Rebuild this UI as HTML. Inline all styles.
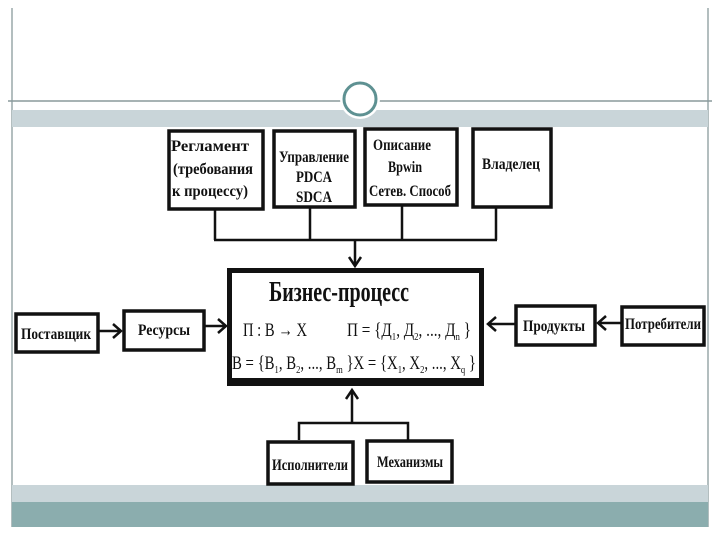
<!DOCTYPE html>
<html><head><meta charset="utf-8"><style>
body{margin:0;width:720px;height:540px;background:#fff;overflow:hidden;font-family:"Liberation Serif","DejaVu Serif",serif}
</style></head><body>
<svg width="720" height="540" xmlns="http://www.w3.org/2000/svg" font-family="Liberation Serif, DejaVu Serif, serif" font-weight="bold">
<line x1="12" y1="8" x2="12" y2="527" stroke="#9aa8aa" stroke-width="1.5"/>
<line x1="708" y1="8" x2="708" y2="527" stroke="#9aa8aa" stroke-width="1.5"/>
<line x1="8" y1="101" x2="712" y2="101" stroke="#8a9a9c" stroke-width="1.5"/>
<rect x="12" y="110" width="696" height="17" fill="#c9d5d9"/>
<rect x="12" y="485" width="696" height="17" fill="#c9d5d9"/>
<rect x="12" y="502" width="696" height="25" fill="#8badae"/>
<circle cx="360" cy="99" r="20" fill="#fff"/>
<circle cx="360" cy="99" r="16" fill="none" stroke="#5e9192" stroke-width="3"/>
<g fill="#fff" stroke="#111" stroke-width="3.5">
<rect x="169" y="131" width="94" height="78"/>
<rect x="274" y="131" width="81" height="76"/>
<rect x="365" y="129" width="92" height="76"/>
<rect x="473" y="129" width="78" height="78"/>
<rect x="16" y="314" width="82" height="38"/>
<rect x="124" y="311" width="80" height="39"/>
<rect x="516" y="306" width="79" height="39"/>
<rect x="622" y="307" width="82" height="38"/>
<rect x="268" y="442" width="85" height="42"/>
<rect x="367" y="441" width="85" height="41"/>
</g>
<rect x="229.5" y="270.5" width="252" height="113" fill="#fff" stroke="#111" stroke-width="5"/>
<rect x="227" y="378" width="257" height="8" fill="#111"/>
<g stroke="#111" stroke-width="2.5" fill="none">
<path d="M215 209V240M310 207V240M402 205V240M496 207V240M214 240H497M355 240V265"/>
<path d="M349 257L355 266L361 257"/>
<path d="M98 331H120M113 324L121 331L113 338"/>
<path d="M204 326H225M218 319L226 326L218 333"/>
<path d="M621 323H599M606 316L598 323L606 330"/>
<path d="M515 324H489M496 317L488 324L496 331"/>
<path d="M299 440V423H408V440M352 423V391M346 399L352 390L358 399"/>
</g>
<g fill="#111" font-size="16" text-anchor="middle">
<text x="210" y="151" textLength="78" lengthAdjust="spacingAndGlyphs">Регламент</text>
<text x="213" y="174" textLength="80" lengthAdjust="spacingAndGlyphs">(требования</text>
<text x="210" y="196" textLength="76" lengthAdjust="spacingAndGlyphs">к процессу)</text>
<text x="314" y="162" textLength="70" lengthAdjust="spacingAndGlyphs">Управление</text>
<text x="314" y="182" textLength="36" lengthAdjust="spacingAndGlyphs">PDCA</text>
<text x="314" y="202" textLength="36" lengthAdjust="spacingAndGlyphs">SDCA</text>
<text x="402" y="150" textLength="58" lengthAdjust="spacingAndGlyphs">Описание</text>
<text x="405" y="172" textLength="34" lengthAdjust="spacingAndGlyphs">Bpwin</text>
<text x="410" y="196" textLength="82" lengthAdjust="spacingAndGlyphs">Сетев. Способ</text>
<text x="511" y="169" textLength="58" lengthAdjust="spacingAndGlyphs">Владелец</text>
<text x="56" y="339" textLength="70" lengthAdjust="spacingAndGlyphs">Поставщик</text>
<text x="164" y="335" textLength="52" lengthAdjust="spacingAndGlyphs">Ресурсы</text>
<text x="554" y="331" textLength="62" lengthAdjust="spacingAndGlyphs">Продукты</text>
<text x="663" y="329" textLength="76" lengthAdjust="spacingAndGlyphs">Потребители</text>
<text x="310" y="470" textLength="76" lengthAdjust="spacingAndGlyphs">Исполнители</text>
<text x="410" y="467" textLength="66" lengthAdjust="spacingAndGlyphs">Механизмы</text>
<text x="339" y="301" font-size="28" textLength="140" lengthAdjust="spacingAndGlyphs">Бизнес-процесс</text>
</g>
<g fill="#111" font-size="19" font-weight="normal">
<text x="243" y="336" textLength="64" lengthAdjust="spacingAndGlyphs">П : В → Х</text>
<text x="347" y="336" textLength="124" lengthAdjust="spacingAndGlyphs">П = {Д<tspan font-size="11" dy="4">1</tspan><tspan dy="-4">, Д</tspan><tspan font-size="11" dy="4">2</tspan><tspan dy="-4">, ..., Д</tspan><tspan font-size="11" dy="4">n</tspan><tspan dy="-4">  }</tspan></text>
<text x="232" y="369" textLength="244" lengthAdjust="spacingAndGlyphs">В = {В<tspan font-size="11" dy="4">1</tspan><tspan dy="-4">, В</tspan><tspan font-size="11" dy="4">2</tspan><tspan dy="-4">, ..., В</tspan><tspan font-size="11" dy="4">m</tspan><tspan dy="-4"> }Х = {Х</tspan><tspan font-size="11" dy="4">1</tspan><tspan dy="-4">, Х</tspan><tspan font-size="11" dy="4">2</tspan><tspan dy="-4">, ..., Х</tspan><tspan font-size="11" dy="4">q</tspan><tspan dy="-4"> }</tspan></text>
</g>
</svg>
</body></html>
